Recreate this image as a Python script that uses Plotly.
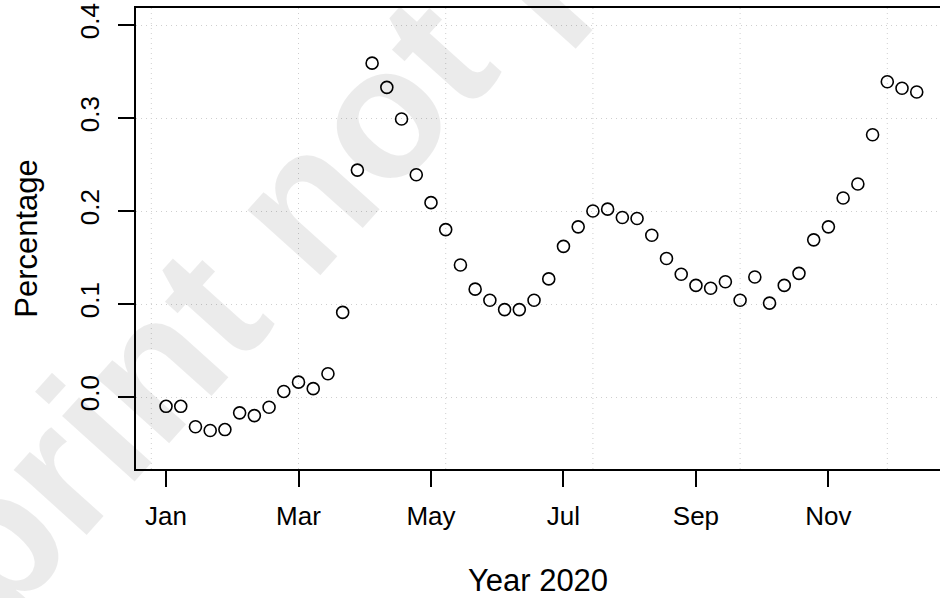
import plotly.graph_objects as go

# Weekly index (1..52) for year 2020
weeks = list(range(1, 53))
percentage = [
    -0.010, -0.010, -0.032, -0.036, -0.035, -0.017, -0.020, -0.011, 0.006, 0.016,
    0.009, 0.025, 0.091, 0.244, 0.359, 0.333, 0.299, 0.239, 0.209, 0.180,
    0.142, 0.116, 0.104, 0.094, 0.094, 0.104, 0.127, 0.162, 0.183, 0.200,
    0.202, 0.193, 0.192, 0.174, 0.149, 0.132, 0.120, 0.117, 0.124, 0.104,
    0.129, 0.101, 0.120, 0.133, 0.169, 0.183, 0.214, 0.229, 0.282, 0.339,
    0.332, 0.328,
]

month_tick_pos = [1, 10, 19, 28, 37, 46]
month_labels = ["Jan", "Mar", "May", "Jul", "Sep", "Nov"]
y_ticks = [0.0, 0.1, 0.2, 0.3, 0.4]
y_tick_labels = ["0.0", "0.1", "0.2", "0.3", "0.4"]
grid_x = [0, 10, 20, 30, 40, 50]

FONT = "Liberation Sans, Arial, Helvetica, sans-serif"
GRID_DASH = "1px,4px"

fig = go.Figure()
fig.add_trace(go.Scatter(
    x=weeks, y=percentage, mode="markers",
    marker=dict(symbol="circle-open", size=12, color="black",
                line=dict(color="black", width=1.6)),
    showlegend=False, hoverinfo="skip",
))

for gx in grid_x:
    fig.add_shape(type="line", xref="x", yref="paper", x0=gx, x1=gx, y0=0, y1=1,
                  line=dict(color="#cfcfcf", width=1, dash=GRID_DASH), layer="below")

fig.add_annotation(
    text="<b>Preprint not peer reviewed</b>", xref="paper", yref="paper",
    x=0.4975, y=1.1475, xanchor="center", yanchor="middle", showarrow=False,
    textangle=-48, font=dict(family=FONT, size=185, color="rgba(0,0,0,0.08)"),
)

fig.update_layout(
    width=940, height=598, autosize=False,
    margin=dict(l=136, r=0, t=8, b=129),
    paper_bgcolor="white", plot_bgcolor="white",
    font=dict(family=FONT, size=26, color="black"),
    xaxis=dict(
        range=[-1.04, 53.58], tickmode="array", tickvals=month_tick_pos,
        ticktext=month_labels, showgrid=False, zeroline=False,
        ticks="outside", ticklen=16, tickwidth=1.5, tickcolor="black",
        ticklabelstandoff=7,
        showline=True, mirror=True, linecolor="black", linewidth=1.8,
        title=dict(text="Year 2020", standoff=40),
    ),
    yaxis=dict(
        range=[-0.0774, 0.4183], tickmode="array", tickvals=y_ticks,
        ticktext=y_tick_labels, tickangle=-90, ticklabelstandoff=9,
        showgrid=True, gridcolor="#cfcfcf", griddash=GRID_DASH, gridwidth=1,
        zeroline=False, ticks="outside", ticklen=16, tickwidth=1.5,
        tickcolor="black", showline=True, mirror=False, linecolor="black",
        linewidth=1.8, title=dict(text="Percentage", standoff=28),
    ),
)

fig.write_html("out.html")
